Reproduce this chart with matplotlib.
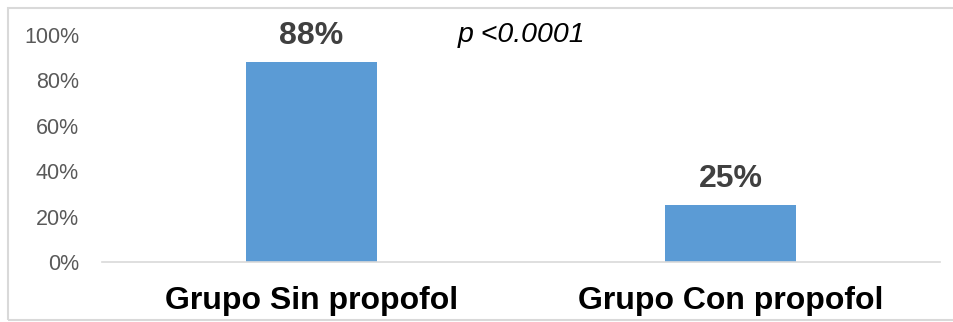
"""
Bar chart: propofol groups
"""

import matplotlib
matplotlib.use('Agg')
import matplotlib.pyplot as plt
from matplotlib.patches import Rectangle
from matplotlib.ticker import PercentFormatter

# Data
categories = ['Grupo Sin propofol', 'Grupo Con propofol']
values     = [0.88, 0.25]
bar_labels = ['88%', '25%']
y_ticks    = [0, 0.2, 0.4, 0.6, 0.8, 1.0]
p_text     = 'p <0.0001'

plt.rcParams['font.family'] = ['Liberation Sans', 'DejaVu Sans']

W, H = 954, 322
fig = plt.figure(figsize=(W / 100, H / 100), dpi=100)

# Plot area in pixel terms
left, right, bottom, top = 102, 940, 262, 35
ax = fig.add_axes([left / W, (H - bottom) / H,
                   (right - left) / W, (bottom - top) / H])

x = range(len(categories))
ax.bar(x, values, width=0.313, color='#5B9BD5', zorder=2)

for xi, v, lab in zip(x, values, bar_labels):
    ax.text(xi, v + 0.117, lab, ha='center', va='center',
            fontsize=23, fontweight='bold', color='#404040', clip_on=False)

ax.set_xlim(-0.5, 1.5)
ax.set_ylim(0, 1.0)
ax.set_yticks(y_ticks)
ax.yaxis.set_major_formatter(PercentFormatter(1.0, decimals=0))
ax.tick_params(axis='y', length=0, pad=16.5, labelsize=15.5, labelcolor='#595959')

ax.set_xticks(list(x))
ax.set_xticklabels(categories, fontsize=23, fontweight='bold', color='black')
ax.tick_params(axis='x', length=0, pad=17)

for s in ['top', 'right', 'left']:
    ax.spines[s].set_visible(False)
ax.spines['bottom'].set_color('#D9D9D9')
ax.spines['bottom'].set_linewidth(1.2)

# p-value annotation
fig.text(522 / W, (H - 35) / H, p_text, ha='center', va='center',
         fontsize=20.5, style='italic', color='black')

# light outer border
fig.patches.append(Rectangle((8 / W, 2 / H), (W + 10) / W, (H - 8) / H - 2 / H,
                             transform=fig.transFigure, fill=False,
                             edgecolor='#D9D9D9', linewidth=1.5))

fig.savefig('out.png', dpi=100)
